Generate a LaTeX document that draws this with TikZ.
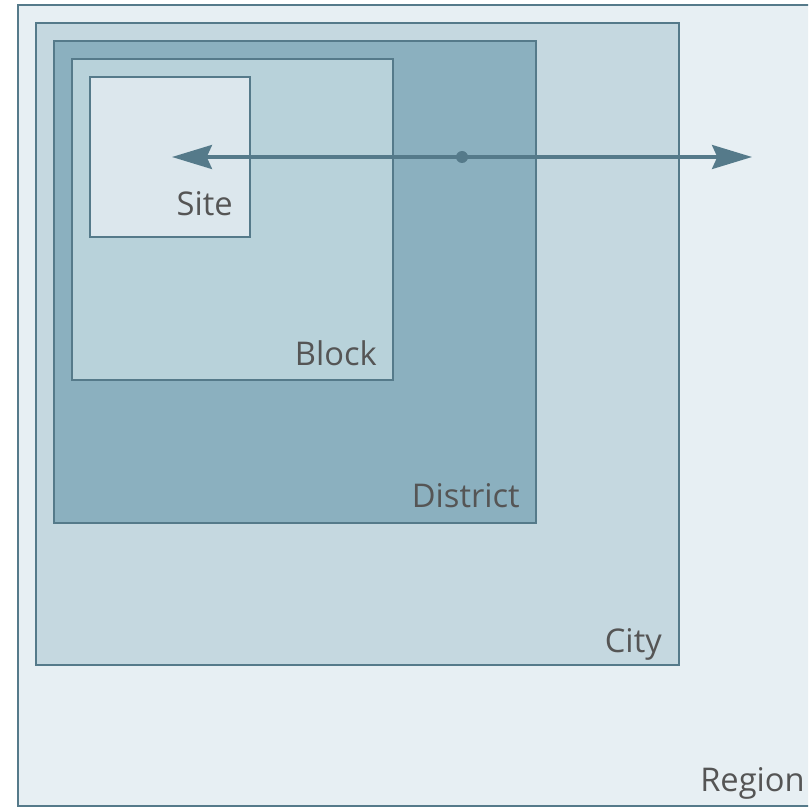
\documentclass[tikz,border=0pt]{standalone}
\usepackage{fontspec}
\setmainfont{Open Sans}
\usetikzlibrary{arrows.meta}
\definecolor{edge}{HTML}{557A8A}
\definecolor{regionfill}{HTML}{E7EFF3}
\definecolor{cityfill}{HTML}{C5D8E0}
\definecolor{districtfill}{HTML}{8BB0BF}
\definecolor{blockfill}{HTML}{B8D2DA}
\definecolor{sitefill}{HTML}{DCE7ED}
\definecolor{labelgray}{HTML}{555555}
\tikzset{
  zone/.style={draw=edge, line width=1.6pt},
  zonelabel/.style={anchor=base east, text=labelgray, font=\fontsize{24.5}{28}\selectfont, inner sep=0pt},
  scalearrow/.style={draw=edge, line width=2.4pt,
    -{Stealth[length=30pt, width=18pt, inset=4pt]}},
}
\begin{document}
\begin{tikzpicture}[x=0.75pt, y=-0.75pt]
\useasboundingbox (0,0) rectangle (808,809);
\clip (0,0) rectangle (808,809);
\fill[white] (0,0) rectangle (808,809);
% nested planning scales
\draw[zone, fill=regionfill]   (18,5)  rectangle (840,806);
\draw[zone, fill=cityfill]     (36,23) rectangle (679,665);
\draw[zone, fill=districtfill] (54,41) rectangle (536,523);
\draw[zone, fill=blockfill]    (72,59) rectangle (393,380);
\draw[zone, fill=sitefill]     (90,77) rectangle (250,237);
% labels
\node[zonelabel] (region)   at (805,791) {Region};
\node[zonelabel] (city)     at (662,652) {City};
\node[zonelabel] (district) at (520,507) {District};
\node[zonelabel] (block)    at (377,365) {Block};
\node[zonelabel] (site)     at (233,215) {Site};
% scale arrow from the centre point
\coordinate (lefttip)  at (172,157);
\coordinate (righttip) at (752,157);
\node[circle, fill=edge, inner sep=0pt, minimum size=9pt] (hub) at (462,157) {};
\draw[scalearrow] (hub.center) -- (lefttip);
\draw[scalearrow] (hub.center) -- (righttip);
\end{tikzpicture}
\end{document}
